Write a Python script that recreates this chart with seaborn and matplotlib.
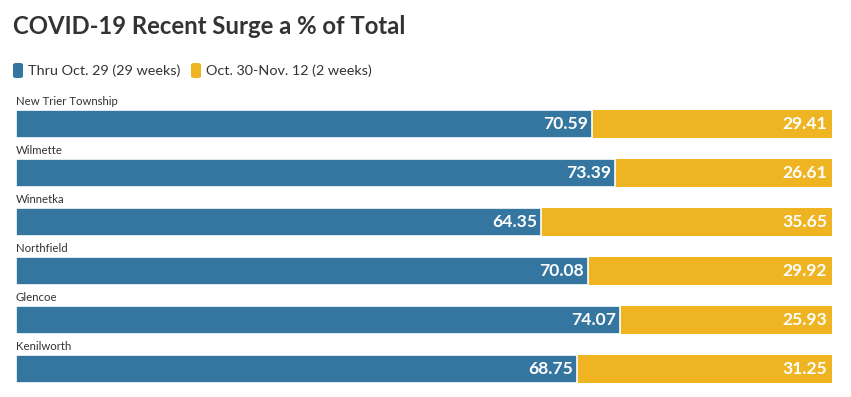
import matplotlib
matplotlib.use("Agg")
import matplotlib.pyplot as plt
import seaborn as sns
import pandas as pd
from matplotlib.patches import FancyBboxPatch

places = ["New Trier Township", "Wilmette", "Winnetka", "Northfield", "Glencoe", "Kenilworth"]
thru_oct29 = [70.59, 73.39, 64.35, 70.08, 74.07, 68.75]
recent = [29.41, 26.61, 35.65, 29.92, 25.93, 31.25]
series_names = ["Thru Oct. 29 (29 weeks)", "Oct. 30-Nov. 12 (2 weeks)"]
title = "COVID-19 Recent Surge a % of Total"

BLUE = "#34769f"
GOLD = "#eeb422"

sns.set_theme(style="white")
plt.rcParams["font.family"] = ["Lato", "DejaVu Sans"]

df = pd.DataFrame({"place": places, "thru": thru_oct29, "recent": recent})
df["total"] = df["thru"] + df["recent"]

W, H = 851, 397
fig = plt.figure(figsize=(W / 100, H / 100), dpi=100)
ax = fig.add_axes([16 / W, (H - 393.5) / H, 816 / W, 294 / H])

bw = 28 / 49
sns.barplot(data=df, y="place", x="total", color=GOLD, width=bw, ax=ax,
            saturation=1, orient="h", edgecolor="none")
sns.barplot(data=df, y="place", x="thru", color=BLUE, width=bw, ax=ax,
            saturation=1, orient="h", edgecolor="white", linewidth=1.2)

ax.set_xlim(0, 100)
ax.set_ylim(len(places) - 0.5, -0.5)
ax.set_xlabel("")
ax.set_ylabel("")
ax.set_xticks([])
ax.set_yticks([])
for s in ax.spines.values():
    s.set_visible(False)

for i, row in df.iterrows():
    ax.text(0, i - bw / 2 - 0.07, row["place"], ha="left", va="bottom",
            fontsize=8.2, color="#333333")
    ax.text(row["thru"] - 0.5, i, f"{row['thru']:.2f}", ha="right", va="center",
            fontsize=12.6, fontweight="bold", color="white")
    ax.text(row["total"] - 0.6, i, f"{row['recent']:.2f}", ha="right", va="center",
            fontsize=12.6, fontweight="bold", color="white")

fig.text(13 / W, 1 - 27 / H, title, ha="left", va="center", fontsize=17.2,
         fontweight="bold", color="#333333")

# legend
lx = [13, 191]
for x0, name, c in zip(lx, series_names, [BLUE, GOLD]):
    fig.patches.append(FancyBboxPatch((x0 / W, 1 - 78 / H), 10 / W, 15 / H,
                                      boxstyle="round,pad=0,rounding_size=0.004",
                                      transform=fig.transFigure, facecolor=c,
                                      edgecolor="none"))
    fig.text((x0 + 15) / W, 1 - 70.5 / H, name, ha="left", va="center",
             fontsize=10.4, color="#333333")

fig.savefig("out.png", dpi=100)
